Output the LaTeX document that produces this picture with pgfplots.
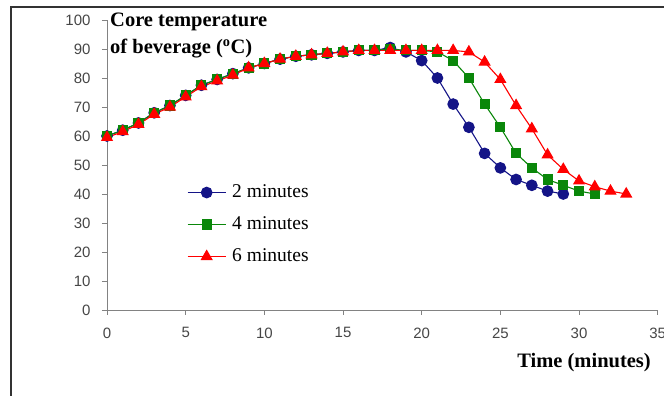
\documentclass[border=0pt]{standalone}
\usepackage{pgfplots}
\pgfplotsset{compat=1.18}
\usepackage{fontspec}
\setmainfont{Liberation Serif}
\newfontfamily\arialf{Liberation Sans}
\definecolor{navy}{RGB}{20,20,135}
\definecolor{dgreen}{RGB}{10,135,10}
\definecolor{axgray}{RGB}{130,130,130}
\definecolor{lblgray}{RGB}{70,70,70}
\begin{document}
\begin{tikzpicture}[x=1pt,y=1pt]
\useasboundingbox (0,0) rectangle (664,396);
\clip (0,0) rectangle (664,396);
\draw[line width=1.4pt, black!80] (11,-5) -- (11,389) -- (670,389);
\begin{axis}[
  at={(107pt,86pt)}, anchor=south west,
  scale only axis, width=550.7pt, height=290pt,
  xmin=0, xmax=35, ymin=0, ymax=100,
  axis x line*=bottom, axis y line*=left,
  axis line style={axgray, line width=0.9pt},
  tick style={axgray, line width=0.9pt},
  major tick length=5pt,
  tick align=outside,
  xtick={0,5,...,35}, ytick={0,10,...,100},
  ticklabel style={font=\arialf\fontsize{15}{18}\selectfont, text=lblgray},
  xticklabel style={yshift=-9pt},
  yticklabel style={xshift=-8pt},
  /pgf/number format/assume math mode=true,
  clip=false,
  legend style={at={(axis cs:5.08,43.5)}, anchor=north west, draw=none, fill=none,
    inner sep=0pt, row sep=15pt, column sep=6pt,
    nodes={inner sep=0pt, text height=13pt, text depth=4pt, anchor=west},
    font=\fontsize{19.5}{22}\selectfont},
  legend cell align=left,
  legend image code/.code={\draw[mark repeat=2,mark phase=2,#1] plot coordinates {(0pt,0pt) (19pt,0pt) (38pt,0pt)};},
]
\addplot[navy, line width=1.1pt, mark=*, mark size=5.3pt, mark options={solid, fill=navy, draw=navy}] coordinates {
(0,60)(1,62)(2,64.5)(3,68)(4,70.5)(5,74)(6,77.5)(7,79.5)(8,81.5)(9,83.5)(10,85)(11,86.5)(12,87.5)(13,88)(14,88.5)(15,89)(16,89.5)(17,89.5)(18,90.5)(19,89)(20,86)(21,80)(22,71)(23,63)(24,54)(25,49)(26,45)(27,43)(28,41)(29,40)};
\addlegendentry{2 minutes}
\addplot[dgreen, line width=1.1pt, mark=square*, mark size=4.5pt, mark options={solid, fill=dgreen, draw=dgreen}] coordinates {
(0,60)(1,62)(2,64.5)(3,68)(4,70.5)(5,74)(6,77.5)(7,79.5)(8,81.5)(9,83.5)(10,85)(11,86.5)(12,87.5)(13,88)(14,88.5)(15,89)(16,89.5)(17,89.5)(18,90)(19,89.5)(20,89.5)(21,89)(22,86)(23,80)(24,71)(25,63)(26,54)(27,49)(28,45)(29,43)(30,41)(31,40)};
\addlegendentry{4 minutes}
\addplot[red, line width=1.1pt, mark=triangle*, mark size=6pt, mark options={solid, fill=red, draw=red}] coordinates {
(0,59.5)(1,61.5)(2,64)(3,67.5)(4,70)(5,73.5)(6,77)(7,79)(8,81)(9,83.5)(10,85)(11,86.5)(12,87.5)(13,88)(14,88.5)(15,89)(16,89.5)(17,89.5)(18,89.5)(19,89.5)(20,89.5)(21,89.5)(22,89.5)(23,89)(24,85.5)(25,79.5)(26,70.5)(27,62.5)(28,53.5)(29,48.5)(30,44.5)(31,42.5)(32,41)(33,40)};
\addlegendentry{6 minutes}
\end{axis}
\node[anchor=base west, inner sep=0pt, font=\bfseries\fontsize{20.5}{24}\selectfont] at (110,369) {Core temperature};
\node[anchor=base west, inner sep=0pt, font=\bfseries\fontsize{20.5}{24}\selectfont] at (110,342) {of beverage (\textsuperscript{o}C)};
\node[anchor=base east, inner sep=0pt, font=\bfseries\fontsize{20.5}{24}\selectfont] at (651,28) {Time (minutes)};
\end{tikzpicture}
\end{document}
